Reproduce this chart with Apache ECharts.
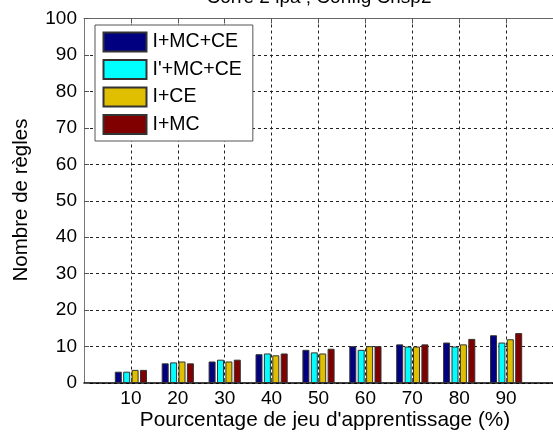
<!DOCTYPE html>
<html>
<head>
<meta charset="utf-8">
<script src="https://cdn.jsdelivr.net/npm/echarts@6/dist/echarts.min.js"></script>
<style>
html,body{margin:0;padding:0;background:#fff;}
#c{width:553px;height:437px;}
</style>
</head>
<body>
<div id="c"></div>
<script>
var categories = ['10','20','30','40','50','60','70','80','90'];
var seriesNames = ['I+MC+CE', "I'+MC+CE", 'I+CE', 'I+MC'];
var sIMCCE  = [3.1, 5.4, 5.9, 7.9, 9.1, 10.1, 10.6, 11.1, 13.1];
var sIpMCCE = [3.1, 5.65, 6.4, 8.1, 8.4, 9.1, 10.0, 10.0, 11.1];
var sICE    = [3.6, 5.9, 5.9, 7.6, 8.1, 10.1, 10.0, 10.6, 12.0];
var sIMC    = [3.6, 5.4, 6.4, 8.1, 9.4, 10.1, 10.6, 12.1, 13.7];
var yTicks  = [0,10,20,30,40,50,60,70,80,90,100];
var colors  = ['#000080', '#00ffff', '#dfbf00', '#800000'];

var FONT = '"Liberation Sans", Arial, sans-serif';
var axisData = ['0'].concat(categories).concat(['100']);
function pad(arr){ return ['-'].concat(arr).concat(['-']); }
var allSeries = [sIMCCE, sIpMCCE, sICE, sIMC];

var chart = echarts.init(document.getElementById('c'), null, {renderer:'canvas'});
var inner = function(i){ return i > 0 && i < axisData.length - 1; };
var option = {
  animation: false,
  backgroundColor: '#fff',
  grid: {left: 84, top: 18.5, width: 470, height: 364.5, containLabel: false},
  xAxis: [{
    type: 'category', data: axisData, boundaryGap: false, position: 'bottom',
    axisLine: {show: true, lineStyle: {color: '#000', width: 1.5}},
    axisTick: {show: true, inside: true, length: 5, interval: inner, lineStyle:{color:'#555'}},
    axisLabel: {show: true, interval: inner, color: '#000', fontSize: 19, fontFamily: FONT, margin: 6},
    splitLine: {show: true, interval: inner, lineStyle: {color: '#222', type: [3,3], width: 1}}
  },{
    type: 'category', data: axisData, boundaryGap: false, position: 'top',
    axisLine: {show: true, lineStyle: {color: '#666', width: 1}},
    axisTick: {show: true, inside: true, length: 5, interval: inner, lineStyle:{color:'#555'}},
    axisLabel: {show: false},
    splitLine: {show: false}
  }],
  yAxis: [{
    type: 'value', min: yTicks[0], max: yTicks[yTicks.length-1], interval: 10,
    axisLine: {show: true, lineStyle: {color: '#777', width: 1}},
    axisTick: {show: true, inside: true, length: 5, lineStyle:{color:'#555'}},
    axisLabel: {color: '#000', fontSize: 19, fontFamily: FONT, margin: 7,
      formatter: function(v){ return yTicks.indexOf(v) >= 0 ? String(v) : ''; }},
    splitLine: {show: true, lineStyle: {color: '#222', type: [3,3], width: 1},
      interval: 0}
  }],
  legend: {
    orient: 'vertical', left: 95, top: 25,
    padding: [6.5, 11, 6, 7.5],
    itemWidth: 43, itemHeight: 19, itemGap: 6.5,
    backgroundColor: '#fff', borderColor: '#555', borderWidth: 1,
    textStyle: {color: '#000', fontSize: 19.5, fontFamily: FONT, padding: [0,0,0,1]},
    icon: 'rect',
    data: seriesNames
  },
  series: allSeries.map(function(vals, i){
    return {
      type: 'bar', name: seriesNames[i], data: pad(vals),
      barWidth: 7, barGap: '20%',
      itemStyle: {color: colors[i], borderColor: '#333', borderWidth: 1},
      z: 3
    };
  }),
  graphic: [
    {type: 'text', x: 319, y: -2, style: {text: 'Corre 2 ipa ; Config Crisp2', font: '19px ' + FONT, fill: '#000', align: 'center', verticalAlign: 'middle'}},
    {type: 'text', x: 325, y: 420, style: {text: "Pourcentage de jeu d'apprentissage (%)", font: '20.8px ' + FONT, fill: '#000', align: 'center', verticalAlign: 'middle'}},
    {type: 'text', x: 21, y: 200, rotation: Math.PI/2, style: {text: 'Nombre de règles', font: '20.5px ' + FONT, fill: '#000', align: 'center', verticalAlign: 'middle'}}
  ]
};
chart.setOption(option);
</script>
</body>
</html>
